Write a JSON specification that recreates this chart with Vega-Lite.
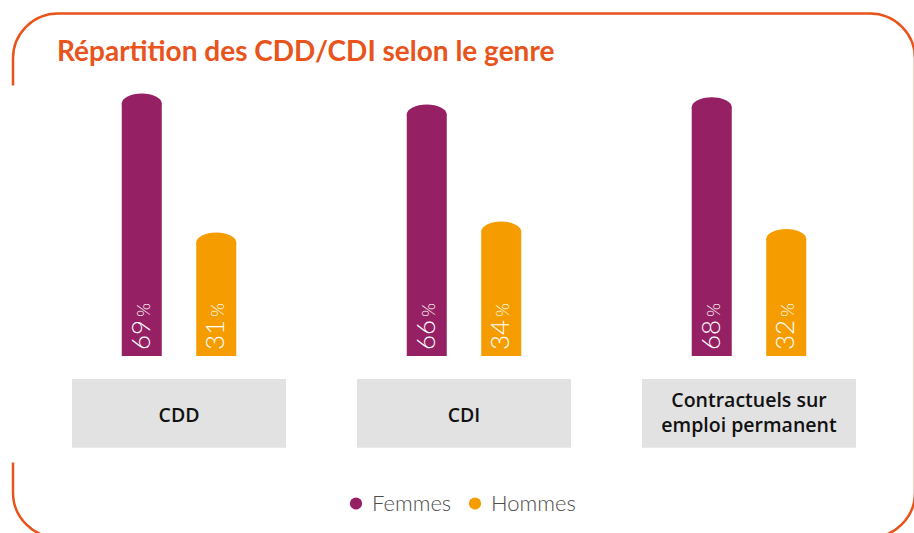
{
  "$schema": "https://vega.github.io/schema/vega-lite/v6.json",
  "width": 902,
  "height": 524,
  "autosize": {"type": "none"},
  "padding": {"left": 13, "top": 13.5, "right": 0, "bottom": 0},
  "background": "white",
  "title": {
    "text": "Répartition des CDD/CDI selon le genre",
    "anchor": "start",
    "frame": "group",
    "offset": -53,
    "dx": 44,
    "font": "Lato",
    "fontSize": 28,
    "fontWeight": "bold",
    "color": "#e8541b"
  },
  "datasets": {
    "bars": [
      {"groupe": "CDD", "genre": "Femmes", "valeur": 69},
      {"groupe": "CDD", "genre": "Hommes", "valeur": 31},
      {"groupe": "CDI", "genre": "Femmes", "valeur": 66},
      {"groupe": "CDI", "genre": "Hommes", "valeur": 34},
      {"groupe": "Contractuels sur emploi permanent", "genre": "Femmes", "valeur": 68},
      {"groupe": "Contractuels sur emploi permanent", "genre": "Hommes", "valeur": 32}
    ],
    "groups": [
      {"groupe": "CDD", "label": "CDD"},
      {"groupe": "CDI", "label": "CDI"},
      {"groupe": "Contractuels sur emploi permanent", "label": "Contractuels sur\nemploi permanent"}
    ]
  },
  "encoding": {
    "x": {
      "field": "groupe",
      "type": "nominal",
      "sort": ["CDD", "CDI", "Contractuels sur emploi permanent"],
      "scale": {"paddingInner": 0.249, "paddingOuter": 0.207},
      "axis": null
    }
  },
  "layer": [
    {
      "data": {"name": "groups"},
      "mark": {"type": "bar", "color": "#e2e2e2"},
      "encoding": {
        "y": {"datum": -6.3, "type": "quantitative", "scale": {"domain": [-49.6, 93.6], "nice": false, "zero": false}, "axis": null},
        "y2": {"datum": -25.1}
      }
    },
    {
      "data": {"name": "groups"},
      "transform": [{"filter": {"field": "groupe", "oneOf": ["CDD", "CDI"]}}],
      "mark": {"type": "text", "font": "Open Sans", "fontSize": 19.5, "fontWeight": 600, "color": "#111111", "baseline": "middle", "align": "center"},
      "encoding": {
        "y": {"datum": -16.5, "type": "quantitative", "scale": {"domain": [-49.6, 93.6], "nice": false, "zero": false}, "axis": null},
        "text": {"field": "label"}
      }
    },
    {
      "data": {"name": "groups"},
      "transform": [{"filter": {"field": "groupe", "oneOf": ["Contractuels sur emploi permanent"]}}],
      "mark": {"type": "text", "lineBreak": "\n", "font": "Open Sans", "fontSize": 19.5, "fontWeight": 600, "color": "#111111", "lineHeight": 25, "baseline": "middle", "align": "center"},
      "encoding": {
        "y": {"datum": -12.3, "type": "quantitative", "scale": {"domain": [-49.6, 93.6], "nice": false, "zero": false}, "axis": null},
        "text": {"field": "label"}
      }
    },
    {
      "data": {"name": "bars"},
      "mark": {"type": "bar"},
      "encoding": {
        "xOffset": {"field": "genre", "type": "nominal", "scale": {"paddingInner": 0.463, "paddingOuter": 0.668}},
        "y": {"field": "valeur", "type": "quantitative", "scale": {"domain": [-49.6, 93.6], "nice": false, "zero": false}, "axis": null},
        "color": {
          "field": "genre", "type": "nominal",
          "scale": {"domain": ["Femmes", "Hommes"], "range": ["#962064", "#f59d00"]},
          "legend": {"title": null, "orient": "none", "legendX": 332, "legendY": 479, "direction": "horizontal", "symbolType": "circle", "symbolSize": 150, "symbolStrokeWidth": 0, "symbolOpacity": 1, "labelFont": "Lato", "labelFontSize": 22, "labelFontWeight": 300, "labelColor": "#4d4d4d", "labelOffset": 5, "columnPadding": 12}
        }
      }
    },
    {
      "data": {"name": "bars"},
      "mark": {"type": "point", "shape": "M-1,0.05 L-1,0 C-1,-0.276 -0.552,-0.5 0,-0.5 C0.552,-0.5 1,-0.276 1,0 L1,0.05 Z", "size": 1600, "filled": true, "opacity": 1, "strokeWidth": 0},
      "encoding": {
        "xOffset": {"field": "genre", "type": "nominal", "scale": {"paddingInner": 0.463, "paddingOuter": 0.668}},
        "y": {"field": "valeur", "type": "quantitative", "scale": {"domain": [-49.6, 93.6], "nice": false, "zero": false}, "axis": null},
        "color": {
          "field": "genre", "type": "nominal",
          "scale": {"domain": ["Femmes", "Hommes"], "range": ["#962064", "#f59d00"]},
          "legend": {"title": null, "orient": "none", "legendX": 332, "legendY": 479, "direction": "horizontal", "symbolType": "circle", "symbolSize": 150, "symbolStrokeWidth": 0, "symbolOpacity": 1, "labelFont": "Lato", "labelFontSize": 22, "labelFontWeight": 300, "labelColor": "#4d4d4d", "labelOffset": 5, "columnPadding": 12}
        }
      }
    },
    {
      "data": {"name": "bars"},
      "mark": {"type": "text", "angle": 270, "align": "left", "baseline": "alphabetic", "dx": 6, "dy": 8, "font": "Lato", "fontSize": 26, "fontWeight": 300, "color": "white"},
      "encoding": {
        "xOffset": {"field": "genre", "type": "nominal", "scale": {"paddingInner": 0.463, "paddingOuter": 0.668}},
        "y": {"datum": 0, "type": "quantitative", "scale": {"domain": [-49.6, 93.6], "nice": false, "zero": false}, "axis": null},
        "text": {"field": "valeur", "type": "quantitative"}
      }
    },
    {
      "data": {"name": "bars"},
      "mark": {"type": "text", "angle": 270, "align": "left", "baseline": "alphabetic", "dx": 39, "dy": 8, "font": "Lato", "fontSize": 18, "fontWeight": 300, "color": "white"},
      "encoding": {
        "xOffset": {"field": "genre", "type": "nominal", "scale": {"paddingInner": 0.463, "paddingOuter": 0.668}},
        "y": {"datum": 0, "type": "quantitative", "scale": {"domain": [-49.6, 93.6], "nice": false, "zero": false}, "axis": null},
        "text": {"value": "%"}
      }
    }
  ],
  "config": {
    "view": {"stroke": "#e8541b", "strokeWidth": 2.5, "cornerRadius": 45, "strokeDash": [2299.6, 377, 1000]}
  }
}
